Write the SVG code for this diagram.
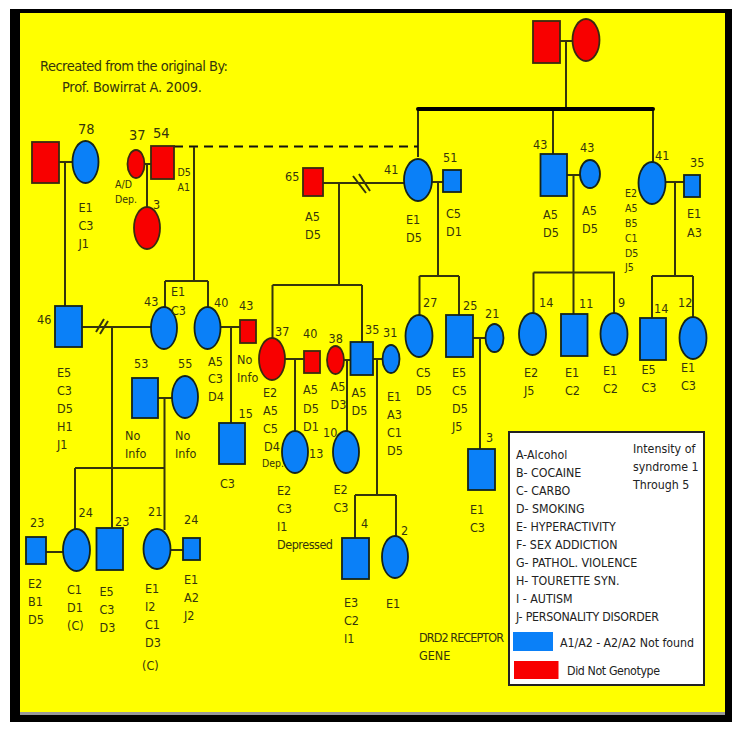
<svg xmlns="http://www.w3.org/2000/svg" width="739" height="734" viewBox="0 0 739 734">
<style>
text{font-family:"DejaVu Sans",sans-serif;font-stretch:condensed;fill:#35350c;font-size:12.500px}
.n{font-size:14.500px}
.s{font-size:10.500px}
.t{font-size:14.500px}
.l{font-size:12.300px;fill:#222}
.b{fill:#0a80f8;stroke:#14241c;stroke-width:1.800}
.r{fill:#f80000;stroke:#3a2a10;stroke-width:1.800}
#connectors path{fill:none;stroke:#35350c;stroke-width:2}
</style>
<rect x="0" y="0" width="739" height="734" fill="#fff"/>
<rect x="10" y="9" width="722" height="713" fill="#000"/>
<rect x="20" y="13" width="705" height="699" fill="#ff0"/>
<rect x="20" y="712" width="705" height="3" fill="#999"/>
<g id="connectors">
<path d="M560 41H573M566 41V108M418 109V157M553 109V154M653 109V163"/>
<path d="M418 109H653" style="stroke:#000;stroke-width:4;stroke-linecap:round"/>
<path d="M174 146.500H418" style="stroke:#111;stroke-dasharray:9 6"/>
<path d="M59 162H73M65 162V306M144 164H151M147 164V208M194 147V281M165 281H208M165 281V308M208 281V308"/>
<path d="M82 327H151M96 332L104 319M100 334L108 321M112 327V528"/>
<path d="M221 327H240M231 327V423M158 398H172M164.500 398V530M75 468H165M75 468V530M46 552H63M170 550H183"/>
<path d="M323 183H405M353 176L366 193M359 174L370 191M339 183V285M272.500 285H362M272.500 285V338M362 285V342"/>
<path d="M285 359H304M295 359V432M344 360H350M347 360V432M373 359H382M377 359V495M355 495H396M355 495V538M396 495V536"/>
<path d="M432 182H443M438 182V276M419.500 276H459M419.500 276V315M459 276V315M473 338H486M480 338V449"/>
<path d="M567 175H580M573.500 175V314M533.500 272.500H615M533.500 272.500V313M614 272.500V313M665 182H684M675 182V276M652 276H693M652 276V318M693 276V317"/>
</g>
<g id="n-top-f"><rect class="r" x="533" y="21" width="27" height="42"/></g>
<g id="n-top-m"><ellipse class="r" cx="586" cy="40" rx="13.500" ry="21"/></g>
<g id="n-sq-left"><rect class="r" x="32" y="142" width="27" height="41"/></g>
<g id="n-78"><ellipse class="b" cx="85.500" cy="162" rx="13" ry="21"/><text class="n" x="78" y="134">78</text><text x="78.500" y="212">E1</text><text x="78.500" y="230">C3</text><text x="78.500" y="248">J1</text></g>
<g id="n-37a"><ellipse class="r" cx="136" cy="164" rx="8.500" ry="14"/><text class="n" x="129" y="140">37</text><text class="s" x="115" y="188">A/D</text><text class="s" x="115" y="203">Dep.</text></g>
<g id="n-54"><rect class="r" x="151" y="146" width="23" height="33"/><text class="n" x="153" y="138">54</text><text class="s" x="177.500" y="176">D5</text><text class="s" x="177.500" y="191">A1</text></g>
<g id="n-3a"><ellipse class="r" cx="147" cy="228" rx="13" ry="21"/><text x="153" y="209">3</text></g>
<g id="n-46"><rect class="b" x="55" y="306" width="27" height="41"/><text x="37" y="324">46</text><text x="57" y="377">E5</text><text x="57" y="395">C3</text><text x="57" y="413">D5</text><text x="57" y="431">H1</text><text x="57" y="449">J1</text></g>
<g id="n-43a"><ellipse class="b" cx="164" cy="328" rx="13" ry="21"/><text x="144" y="306">43</text><text x="171" y="296">E1</text><text x="171" y="315">C3</text></g>
<g id="n-40a"><ellipse class="b" cx="207.500" cy="328" rx="13" ry="21"/><text x="214" y="307">40</text><text x="208" y="366">A5</text><text x="208" y="383">C3</text><text x="208" y="401">D4</text></g>
<g id="n-43b"><rect class="r" x="240" y="320" width="16" height="23"/><text x="239" y="310">43</text><text x="237" y="364">No</text><text x="237" y="382">Info</text></g>
<g id="n-15"><rect class="b" x="219" y="423" width="26" height="41"/><text x="238.500" y="418">15</text><text x="220" y="488">C3</text></g>
<g id="n-53"><rect class="b" x="132" y="378" width="26" height="40"/><text x="134" y="368">53</text><text x="125" y="440">No</text><text x="125" y="458">Info</text></g>
<g id="n-55"><ellipse class="b" cx="185" cy="397" rx="13" ry="21"/><text x="178" y="368">55</text><text x="175" y="440">No</text><text x="175" y="458">Info</text></g>
<g id="n-23a"><rect class="b" x="26" y="537" width="20" height="27"/><text x="30" y="527">23</text><text x="28" y="588">E2</text><text x="28" y="606">B1</text><text x="28" y="624">D5</text></g>
<g id="n-24a"><ellipse class="b" cx="76.500" cy="550" rx="13.500" ry="21"/><text x="78.500" y="517">24</text><text x="67" y="594">C1</text><text x="67" y="612">D1</text><text x="67" y="630">(C)</text></g>
<g id="n-23b"><rect class="b" x="96.500" y="528" width="26.500" height="42"/><text x="115" y="526">23</text><text x="99.500" y="596">E5</text><text x="99.500" y="614">C3</text><text x="99.500" y="632">D3</text></g>
<g id="n-21a"><ellipse class="b" cx="157" cy="549" rx="13.500" ry="20"/><text x="148" y="516">21</text><text x="145" y="593">E1</text><text x="145" y="611">I2</text><text x="145" y="629">C1</text><text x="145" y="647">D3</text><text x="142" y="670">(C)</text></g>
<g id="n-24b"><rect class="b" x="183" y="538" width="17" height="22"/><text x="184" y="524">24</text><text x="184" y="584">E1</text><text x="184" y="602">A2</text><text x="184" y="620">J2</text></g>
<g id="n-65"><rect class="r" x="303" y="168" width="20" height="28"/><text x="285" y="181">65</text><text x="305" y="221">A5</text><text x="305" y="239">D5</text></g>
<g id="n-37b"><ellipse class="r" cx="272" cy="359" rx="13" ry="21"/><text x="275" y="336">37</text><text x="263" y="397">E2</text><text x="263" y="415">A5</text><text x="263" y="433">C5</text><text x="264" y="451">D4</text><text class="s" x="262" y="467">Dep.</text></g>
<g id="n-40b"><rect class="r" x="304" y="351" width="16" height="22"/><text x="303" y="338">40</text><text x="303" y="394">A5</text><text x="303" y="413">D5</text><text x="303" y="431">D1</text></g>
<g id="n-38"><ellipse class="r" cx="335.500" cy="360" rx="8.500" ry="14"/><text x="328.500" y="343">38</text><text x="330.500" y="391">A5</text><text x="330.500" y="409">D3</text></g>
<g id="n-35a"><rect class="b" x="350.500" y="342" width="22.500" height="33"/><text x="365" y="334">35</text><text x="351.500" y="397">A5</text><text x="351.500" y="415">D5</text></g>
<g id="n-31"><ellipse class="b" cx="391" cy="359" rx="8.500" ry="14"/><text x="383" y="337">31</text><text x="387" y="401">E1</text><text x="387" y="419">A3</text><text x="387" y="437">C1</text><text x="387" y="455">D5</text></g>
<g id="n-13"><ellipse class="b" cx="295" cy="452" rx="13" ry="21"/><text x="309" y="458">13</text><text x="277" y="495">E2</text><text x="277" y="513">C3</text><text x="277" y="531">I1</text><text x="277" y="549" textLength="56">Depressed</text></g>
<g id="n-10"><ellipse class="b" cx="346" cy="452" rx="13" ry="21"/><text x="323" y="437">10</text><text x="333.500" y="494">E2</text><text x="333.500" y="512">C3</text></g>
<g id="n-4"><rect class="b" x="342" y="538" width="27" height="41"/><text x="361" y="528">4</text><text x="344" y="607">E3</text><text x="344" y="625">C2</text><text x="344" y="643">I1</text></g>
<g id="n-2"><ellipse class="b" cx="395" cy="557" rx="13" ry="21"/><text x="401" y="535">2</text><text x="386" y="608">E1</text></g>
<g id="n-41a"><ellipse class="b" cx="418" cy="180" rx="14" ry="21"/><text x="384" y="174">41</text><text x="406" y="224">E1</text><text x="406" y="242">D5</text></g>
<g id="n-51"><rect class="b" x="443" y="170" width="18" height="22"/><text x="443" y="162">51</text><text x="446" y="218">C5</text><text x="446" y="236">D1</text></g>
<g id="n-27"><ellipse class="b" cx="419" cy="336" rx="13.500" ry="21"/><text x="423" y="307">27</text><text x="416" y="377">C5</text><text x="416" y="395">D5</text></g>
<g id="n-25"><rect class="b" x="446" y="315" width="27" height="42"/><text x="463" y="310">25</text><text x="452" y="377">E5</text><text x="452" y="395">C5</text><text x="452" y="413">D5</text><text x="452" y="431">J5</text></g>
<g id="n-21b"><ellipse class="b" cx="494.500" cy="338" rx="9" ry="14"/><text x="485" y="318">21</text></g>
<g id="n-3b"><rect class="b" x="468" y="449" width="27" height="41"/><text x="486" y="442">3</text><text x="470" y="514">E1</text><text x="470" y="532">C3</text></g>
<g id="n-43c"><rect class="b" x="540.500" y="154" width="26.500" height="42"/><text x="533" y="149">43</text><text x="543" y="219">A5</text><text x="543" y="237">D5</text></g>
<g id="n-43d"><ellipse class="b" cx="590" cy="174" rx="10" ry="14"/><text x="580" y="152">43</text><text x="582" y="215">A5</text><text x="582" y="233">D5</text></g>
<g id="n-41b"><ellipse class="b" cx="652" cy="183" rx="13.500" ry="21"/><text x="655" y="160">41</text><text class="s" x="625" y="197">E2</text><text class="s" x="625" y="212">A5</text><text class="s" x="625" y="227">B5</text><text class="s" x="625" y="242">C1</text><text class="s" x="625" y="257">D5</text><text class="s" x="625" y="271">J5</text></g>
<g id="n-35b"><rect class="b" x="684" y="175" width="16" height="22"/><text x="690" y="167">35</text><text x="687" y="218">E1</text><text x="687" y="237">A3</text></g>
<g id="n-14a"><ellipse class="b" cx="532.500" cy="334" rx="13.500" ry="21"/><text x="539" y="307">14</text><text x="524" y="377">E2</text><text x="524" y="395">J5</text></g>
<g id="n-11"><rect class="b" x="561" y="314" width="26.500" height="42"/><text x="579" y="308">11</text><text x="565" y="377">E1</text><text x="565" y="395">C2</text></g>
<g id="n-9"><ellipse class="b" cx="614" cy="334" rx="13.500" ry="21"/><text x="618" y="307">9</text><text x="603" y="375">E1</text><text x="603" y="393">C2</text></g>
<g id="n-14b"><rect class="b" x="640" y="318" width="26" height="42"/><text x="654" y="313">14</text><text x="641.500" y="374">E5</text><text x="641.500" y="392">C3</text></g>
<g id="n-12"><ellipse class="b" cx="693" cy="338" rx="13.500" ry="21"/><text x="678" y="307">12</text><text x="681" y="372">E1</text><text x="681" y="390">C3</text></g>
<g id="title"><text class="t" x="40" y="71" textLength="188">Recreated from the original By:</text><text class="t" x="62" y="92" textLength="140">Prof. Bowirrat A. 2009.</text></g>
<g id="gene"><text x="419" y="642" textLength="85">DRD2 RECEPTOR</text><text x="419" y="660">GENE</text></g>
<g id="legend">
<rect x="509" y="432" width="195" height="253" fill="#fff" stroke="#222" stroke-width="2"/>
<rect x="513" y="632" width="40" height="19" fill="#0a80f8"/>
<rect x="514" y="661" width="44.500" height="18" fill="#f80000"/>
<text class="l" x="516" y="459">A-Alcohol</text>
<text class="l" x="516" y="477">B- COCAINE</text>
<text class="l" x="516" y="495">C- CARBO</text>
<text class="l" x="516" y="513">D- SMOKING</text>
<text class="l" x="516" y="531">E- HYPERACTIVITY</text>
<text class="l" x="516" y="549">F- SEX ADDICTION</text>
<text class="l" x="516" y="567">G- PATHOL. VIOLENCE</text>
<text class="l" x="516" y="585">H- TOURETTE SYN.</text>
<text class="l" x="516" y="603">I - AUTISM</text>
<text class="l" x="516" y="621" textLength="143">J- PERSONALITY DISORDER</text>
<text class="l" x="633" y="453">Intensity of</text>
<text class="l" x="633" y="471">syndrome 1</text>
<text class="l" x="633" y="489">Through 5</text>
<text class="l" x="560" y="647" textLength="134">A1/A2 - A2/A2 Not found</text>
<text class="l" x="567" y="675" textLength="93">Did Not Genotype</text>
</g>
</svg>
